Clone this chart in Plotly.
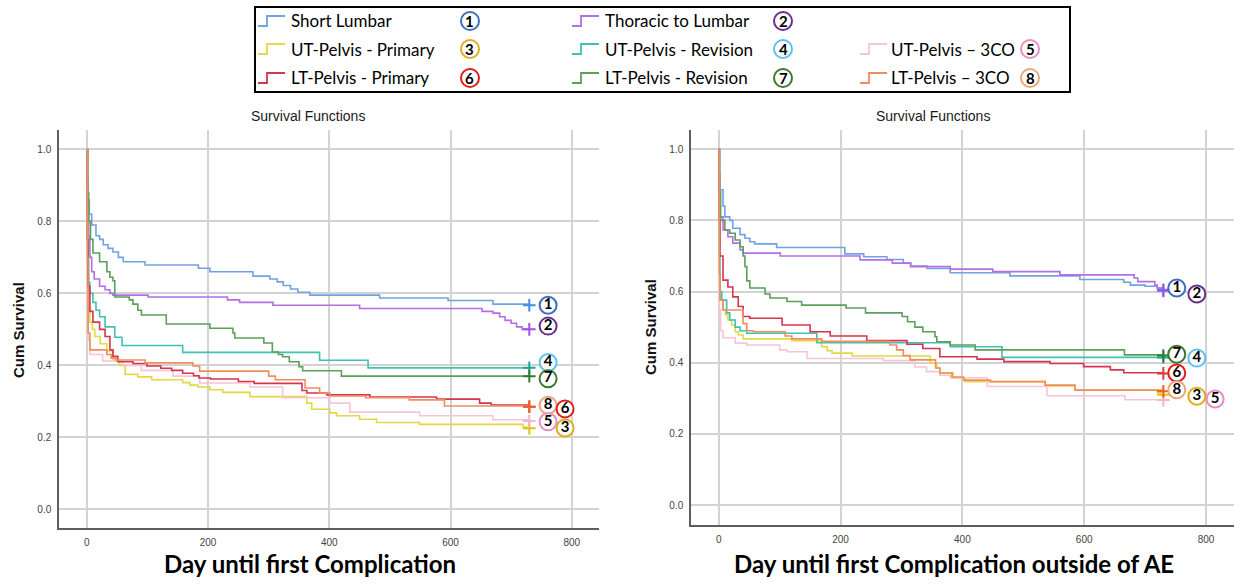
import plotly.graph_objects as go

W, H = 1243, 584

# ---------------- data ----------------
series_names = ["Short Lumbar", "Thoracic to Lumbar", "UT-Pelvis - Primary", "UT-Pelvis - Revision",
                "UT-Pelvis \u2013 3CO", "LT-Pelvis - Primary", "LT-Pelvis - Revision", "LT-Pelvis \u2013 3CO"]
series_numbers = ["1", "2", "3", "4", "5", "6", "7", "8"]

x_ticks = [0, 200, 400, 600, 800]
y_ticks = [0.0, 0.2, 0.4, 0.6, 0.8, 1.0]
y_tick_labels = ["0.0", "0.2", "0.4", "0.6", "0.8", "1.0"]

panel_titles = ["Survival Functions", "Survival Functions"]
x_titles = ["Day until first Complication", "Day until first Complication outside of AE"]
y_title = "Cum Survival"

# Left panel: Day until first Complication
L_sl_t = [0, 1, 2, 4, 8, 15, 21, 27, 35, 43, 52, 60, 96, 184, 203, 274, 302, 314, 324, 336, 348, 368, 483, 596, 670, 730]
L_sl_s = [1.0, 0.92, 0.86, 0.82, 0.79, 0.76, 0.75, 0.735, 0.725, 0.715, 0.70, 0.688, 0.679, 0.67, 0.66, 0.648, 0.64, 0.632, 0.622, 0.612, 0.603, 0.595, 0.587, 0.58, 0.57, 0.567]
L_tl_t = [0, 1, 2, 3, 5, 8, 12, 21, 30, 38, 43, 101, 232, 252, 307, 450, 652, 670, 681, 690, 700, 709, 718, 730]
L_tl_s = [1.0, 0.9, 0.82, 0.76, 0.70, 0.66, 0.64, 0.62, 0.61, 0.60, 0.595, 0.59, 0.582, 0.575, 0.567, 0.558, 0.55, 0.545, 0.535, 0.525, 0.517, 0.507, 0.50, 0.50]
L_utp_t = [0, 1, 3, 5, 9, 13, 22, 33, 43, 54, 63, 84, 107, 158, 170, 183, 203, 224, 269, 363, 371, 401, 412, 450, 478, 549, 720, 730]
L_utp_s = [1.0, 0.65, 0.56, 0.52, 0.50, 0.48, 0.46, 0.44, 0.415, 0.40, 0.375, 0.368, 0.36, 0.352, 0.345, 0.34, 0.332, 0.325, 0.313, 0.295, 0.278, 0.268, 0.26, 0.25, 0.241, 0.236, 0.228, 0.225]
L_utr_t = [0, 1, 3, 5, 10, 15, 21, 30, 46, 58, 158, 384, 464, 730]
L_utr_s = [1.0, 0.75, 0.63, 0.60, 0.575, 0.553, 0.535, 0.507, 0.478, 0.455, 0.436, 0.414, 0.393, 0.393]
L_ut3_t = [0, 1, 2, 5, 26, 60, 90, 142, 186, 269, 323, 401, 434, 549, 670, 730]
L_ut3_s = [1.0, 0.6, 0.47, 0.43, 0.412, 0.40, 0.386, 0.37, 0.351, 0.34, 0.31, 0.295, 0.27, 0.26, 0.249, 0.245]
L_ltp_t = [0, 1, 2, 5, 10, 21, 30, 38, 43, 51, 76, 99, 122, 140, 158, 176, 185, 204, 250, 276, 355, 363, 396, 467, 577, 648, 667, 730]
L_ltp_s = [1.0, 0.75, 0.62, 0.55, 0.52, 0.50, 0.48, 0.443, 0.425, 0.41, 0.405, 0.398, 0.392, 0.386, 0.378, 0.371, 0.365, 0.362, 0.355, 0.35, 0.33, 0.323, 0.318, 0.312, 0.306, 0.295, 0.29, 0.285]
L_ltr_t = [0, 1, 3, 6, 10, 21, 33, 38, 43, 46, 70, 76, 84, 90, 131, 203, 241, 244, 292, 306, 316, 323, 334, 350, 356, 420, 730]
L_ltr_s = [1.0, 0.88, 0.80, 0.75, 0.712, 0.688, 0.66, 0.645, 0.635, 0.59, 0.582, 0.57, 0.553, 0.54, 0.515, 0.503, 0.49, 0.476, 0.462, 0.437, 0.43, 0.424, 0.41, 0.396, 0.385, 0.37, 0.37]
L_lt3_t = [0, 1, 2, 5, 33, 40, 48, 96, 175, 186, 300, 311, 360, 384, 401, 460, 532, 590, 730]
L_lt3_s = [1.0, 0.7, 0.49, 0.443, 0.43, 0.42, 0.415, 0.407, 0.398, 0.384, 0.37, 0.36, 0.337, 0.323, 0.315, 0.31, 0.304, 0.287, 0.285]

# Right panel: Day until first Complication outside of AE
R_sl_t = [0, 1, 2, 7, 10, 18, 23, 35, 43, 51, 59, 95, 207, 238, 276, 303, 315, 342, 380, 478, 593, 665, 676, 700, 720, 730]
R_sl_s = [1.0, 0.93, 0.886, 0.84, 0.81, 0.80, 0.778, 0.76, 0.75, 0.74, 0.734, 0.724, 0.706, 0.698, 0.69, 0.68, 0.672, 0.665, 0.653, 0.644, 0.634, 0.626, 0.618, 0.615, 0.61, 0.605]
R_tl_t = [0, 1, 2, 7, 15, 23, 35, 40, 101, 232, 285, 315, 380, 450, 560, 682, 688, 716, 720, 730]
R_tl_s = [1.0, 0.9, 0.81, 0.773, 0.754, 0.736, 0.717, 0.708, 0.70, 0.689, 0.68, 0.67, 0.663, 0.656, 0.647, 0.638, 0.628, 0.618, 0.61, 0.602]
R_utp_t = [0, 1, 2, 7, 11, 15, 21, 27, 32, 40, 120, 169, 178, 186, 219, 347, 358, 363, 385, 404, 536, 585, 720, 730]
R_utp_s = [1.0, 0.62, 0.576, 0.548, 0.535, 0.52, 0.506, 0.487, 0.478, 0.467, 0.462, 0.445, 0.434, 0.427, 0.419, 0.399, 0.385, 0.371, 0.357, 0.347, 0.335, 0.323, 0.315, 0.31]
R_utr_t = [0, 1, 2, 5, 13, 18, 27, 35, 46, 161, 380, 465, 730]
R_utr_s = [1.0, 0.7, 0.6, 0.576, 0.54, 0.52, 0.50, 0.49, 0.483, 0.456, 0.445, 0.415, 0.415]
R_ut3_t = [0, 1, 3, 7, 27, 46, 100, 112, 145, 270, 322, 341, 363, 380, 441, 539, 667, 730]
R_ut3_s = [1.0, 0.55, 0.49, 0.47, 0.455, 0.45, 0.436, 0.431, 0.412, 0.406, 0.388, 0.375, 0.365, 0.358, 0.333, 0.307, 0.296, 0.295]
R_ltp_t = [0, 1, 2, 7, 15, 23, 32, 40, 51, 104, 150, 183, 243, 309, 335, 363, 424, 468, 544, 599, 643, 665, 730]
R_ltp_s = [1.0, 0.8, 0.7, 0.632, 0.613, 0.585, 0.558, 0.53, 0.525, 0.506, 0.487, 0.475, 0.462, 0.452, 0.44, 0.417, 0.41, 0.403, 0.398, 0.389, 0.38, 0.372, 0.37]
R_ltr_t = [0, 1, 3, 10, 18, 27, 35, 40, 43, 46, 51, 76, 84, 112, 136, 209, 241, 301, 310, 322, 335, 355, 358, 380, 421, 666, 730]
R_ltr_s = [1.0, 0.88, 0.8, 0.773, 0.764, 0.745, 0.726, 0.70, 0.67, 0.63, 0.61, 0.593, 0.582, 0.572, 0.562, 0.554, 0.54, 0.53, 0.515, 0.50, 0.487, 0.473, 0.459, 0.45, 0.436, 0.422, 0.42]
R_lt3_t = [0, 1, 2, 7, 40, 46, 57, 109, 120, 169, 281, 292, 303, 314, 356, 363, 383, 402, 446, 536, 585, 730]
R_lt3_s = [1.0, 0.65, 0.576, 0.548, 0.51, 0.49, 0.487, 0.475, 0.467, 0.46, 0.45, 0.436, 0.42, 0.408, 0.385, 0.371, 0.36, 0.351, 0.347, 0.337, 0.323, 0.32]

left_series = [(L_sl_t, L_sl_s), (L_tl_t, L_tl_s), (L_utp_t, L_utp_s), (L_utr_t, L_utr_s),
               (L_ut3_t, L_ut3_s), (L_ltp_t, L_ltp_s), (L_ltr_t, L_ltr_s), (L_lt3_t, L_lt3_s)]
right_series = [(R_sl_t, R_sl_s), (R_tl_t, R_tl_s), (R_utp_t, R_utp_s), (R_utr_t, R_utr_s),
                (R_ut3_t, R_ut3_s), (R_ltp_t, R_ltp_s), (R_ltr_t, R_ltr_s), (R_lt3_t, R_lt3_s)]

# ---------------- styles ----------------
line_colors = ["#72a2e2", "#b46ee6", "#e4d846", "#3fc2b2", "#f8c4d8", "#d6354f", "#5c9f5b", "#ef8d5d"]
cross_colors = ["#3f8fe6", "#a24fe6", "#e6c400", "#19a898", "#f6b3cc", "#e23a3a", "#2f7d32", "#f0602a"]
ring_colors = ["#3e6fc0", "#6b2d92", "#e2ad1c", "#5ec2ee", "#e88ec0", "#e01c1c", "#3d7a2b", "#e9a77b"]

# circled-number label placement (data coords) per panel: (series index, x, y)
left_label_pos = [(0, 761, 0.567), (1, 761, 0.509), (3, 761, 0.408), (6, 761, 0.363),
                  (7, 761, 0.289), (5, 789, 0.279), (4, 761, 0.243), (2, 789, 0.226)]
right_label_pos = [(0, 752, 0.61), (1, 785, 0.593), (6, 752, 0.424), (3, 785, 0.413),
                   (5, 752, 0.371), (7, 752, 0.324), (2, 785, 0.306), (4, 815, 0.298)]

GRID = "#d3d3d3"
AXIS = "#5e5e5e"
TICKFONT = dict(family="Liberation Sans, Arial, sans-serif", size=10, color="#444444")


def px(x):
    return x / W


def py(y):
    return 1 - y / H


fig = go.Figure()

for xa, ya, data, labels in [("x", "y", left_series, left_label_pos),
                             ("x2", "y2", right_series, right_label_pos)]:
    for i, (t, s) in enumerate(data):
        fig.add_trace(go.Scatter(
            x=t, y=s, mode="lines", xaxis=xa, yaxis=ya, name=series_names[i],
            line=dict(color=line_colors[i], width=1.6, shape="hv"),
            showlegend=False, hoverinfo="skip"))
    fig.add_trace(go.Scatter(
        x=[t[-1] for t, s in data], y=[s[-1] for t, s in data], mode="markers",
        xaxis=xa, yaxis=ya, showlegend=False, hoverinfo="skip",
        marker=dict(symbol="cross-thin", size=9, color=cross_colors,
                    line=dict(width=2, color=cross_colors))))
    fig.add_trace(go.Scatter(
        x=[p[1] for p in labels], y=[p[2] for p in labels], mode="markers+text",
        xaxis=xa, yaxis=ya, showlegend=False, hoverinfo="skip", cliponaxis=False,
        text=["<b>%s</b>" % series_numbers[p[0]] for p in labels],
        textposition="middle center",
        textfont=dict(family="Lato, sans-serif", size=15, color="black"),
        marker=dict(symbol="circle", size=17, color="white",
                    line=dict(width=2, color=[ring_colors[p[0]] for p in labels]))))

axis_common = dict(showgrid=True, gridcolor=GRID, gridwidth=1.5, showline=True,
                   linecolor=AXIS, linewidth=1.5, zeroline=False, ticks="outside",
                   ticklen=4, tickcolor="rgba(0,0,0,0)", tickfont=TICKFONT)

fig.update_layout(
    width=W, height=H, margin=dict(l=0, r=0, t=0, b=0),
    paper_bgcolor="white", plot_bgcolor="white",
    xaxis=dict(domain=[px(59), px(599)], range=[-46, 845], tickvals=x_ticks, anchor="y", **axis_common),
    yaxis=dict(domain=[py(528), py(130)], range=[-0.052, 1.054], tickvals=y_ticks,
               ticktext=y_tick_labels, anchor="x", **axis_common),
    xaxis2=dict(domain=[px(691), px(1234)], range=[-45.6, 846], tickvals=x_ticks, anchor="y2", **axis_common),
    yaxis2=dict(domain=[py(525), py(130)], range=[-0.056, 1.054], tickvals=y_ticks,
                ticktext=y_tick_labels, anchor="x2", **axis_common),
)

ann = []
shapes = []
# panel titles and axis titles
for cx, txt in [(308, panel_titles[0]), (933, panel_titles[1])]:
    ann.append(dict(x=px(cx), y=py(116), xref="paper", yref="paper", text=txt, showarrow=False,
                    xanchor="center", yanchor="middle",
                    font=dict(family="Liberation Sans, Arial, sans-serif", size=14, color="#1a1a1a")))
for cx, txt in [(310, x_titles[0]), (954, x_titles[1])]:
    ann.append(dict(x=px(cx), y=py(563), xref="paper", yref="paper", text="<b>%s</b>" % txt,
                    showarrow=False, xanchor="center", yanchor="middle",
                    font=dict(family="Lato, sans-serif", size=24, color="black")))
for cx, cy in [(18, 330), (650, 327)]:
    ann.append(dict(x=px(cx), y=py(cy), xref="paper", yref="paper", text="<b>%s</b>" % y_title,
                    showarrow=False, textangle=-90, xanchor="center", yanchor="middle",
                    font=dict(family="Liberation Sans, Arial, sans-serif", size=15, color="#111111")))

# custom legend box
shapes.append(dict(type="rect", xref="paper", yref="paper", x0=px(255), x1=px(1070),
                   y0=py(92), y1=py(7), line=dict(color="black", width=2), fillcolor="white", layer="below"))
legend_rows = [21, 49, 78]
legend_cols = [(258, 289, 470), (572, 603, 783), (860, 889, 1030)]
legend_grid = [[0, 2, 5], [1, 3, 6], [None, 4, 7]]
for c, col in enumerate(legend_grid):
    lx, tx, cx = legend_cols[c]
    for r, idx in enumerate(col):
        if idx is None:
            continue
        yy = legend_rows[r]
        path = "M %f,%f L %f,%f L %f,%f L %f,%f" % (px(lx), py(yy + 5), px(lx + 9), py(yy + 5),
                                                   px(lx + 9), py(yy - 5), px(lx + 27), py(yy - 5))
        shapes.append(dict(type="path", xref="paper", yref="paper", path=path,
                           line=dict(color=line_colors[idx], width=1.8)))
        ann.append(dict(x=px(tx), y=py(yy), xref="paper", yref="paper", text=series_names[idx],
                        showarrow=False, xanchor="left", yanchor="middle",
                        font=dict(family="Lato, sans-serif", size=17, color="black")))
        shapes.append(dict(type="circle", xref="paper", yref="paper", xsizemode="pixel", ysizemode="pixel",
                           xanchor=px(cx), yanchor=py(yy), x0=-9, x1=9, y0=-9, y1=9,
                           line=dict(color=ring_colors[idx], width=2), fillcolor="white"))
        ann.append(dict(x=px(cx), y=py(yy), xref="paper", yref="paper",
                        text="<b>%s</b>" % series_numbers[idx], showarrow=False,
                        xanchor="center", yanchor="middle",
                        font=dict(family="Lato, sans-serif", size=15, color="black")))

fig.update_layout(annotations=ann, shapes=shapes)
fig.write_html("out.html", config={"displayModeBar": False},
               post_script="document.body.style.margin='0';document.body.style.padding='0';")
